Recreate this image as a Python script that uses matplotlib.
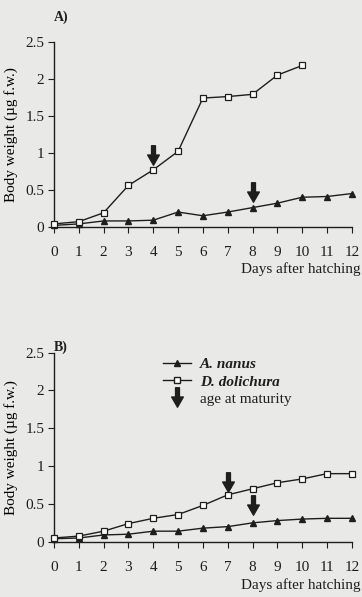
import numpy as np
import matplotlib
matplotlib.use('Agg')
import matplotlib.pyplot as plt
from matplotlib.path import Path
from matplotlib.lines import Line2D

# data (body weight, ug fresh weight)
days = np.arange(0, 13)
nanus_A = [0.02, 0.04, 0.08, 0.08, 0.09, 0.20, 0.15, 0.20, 0.26, 0.32, 0.40, 0.41, 0.45]
doli_A = [0.04, 0.07, 0.19, 0.56, 0.77, 1.02, 1.74, 1.76, 1.79, 2.05, 2.18]
nanus_B = [0.04, 0.05, 0.09, 0.10, 0.14, 0.14, 0.18, 0.20, 0.25, 0.28, 0.30, 0.31, 0.31]
doli_B = [0.05, 0.075, 0.14, 0.24, 0.31, 0.36, 0.48, 0.62, 0.70, 0.78, 0.83, 0.90, 0.90]

# age at maturity arrows (day, arrow centre)
mat_A_days = [4, 8]
mat_A_y = [0.97, 0.47]
mat_B_days = [7, 8]
mat_B_y = [0.79, 0.49]

yticks = [0, 0.5, 1, 1.5, 2, 2.5]
ytick_labels = ['0', '0.5', '1', '1.5', '2', '2.5']

bg = '#e9e9e7'
ink = '#1e1e1e'
plt.rcParams['font.family'] = ['Liberation Serif', 'DejaVu Serif']
plt.rcParams['font.size'] = 11
plt.rcParams['text.color'] = ink
plt.rcParams['axes.edgecolor'] = ink
plt.rcParams['xtick.color'] = ink
plt.rcParams['ytick.color'] = ink

# thick down arrow as a marker
arrow = Path([(-0.2, 1.0), (0.2, 1.0), (0.2, 0.05), (0.6, 0.05), (0.0, -1.0),
              (-0.6, 0.05), (-0.2, 0.05), (-0.2, 1.0)],
             [Path.MOVETO] + [Path.LINETO] * 6 + [Path.CLOSEPOLY])

fig = plt.figure(figsize=(3.62, 5.97), dpi=100, facecolor=bg)
axA = fig.add_axes([0.149, 0.620, 0.823, 0.310])
axB = fig.add_axes([0.149, 0.0925, 0.823, 0.317])


def panel(ax, nanus, doli, mdays, my):
    ax.set_facecolor(bg)
    ax.plot(days[:len(nanus)], nanus, color=ink, lw=1.0, marker='^', ms=5,
            mfc=ink, mec=ink, clip_on=False, zorder=3)
    ax.plot(days[:len(doli)], doli, color=ink, lw=1.0, marker='s', ms=5,
            mfc='white', mec=ink, mew=0.9, clip_on=False, zorder=4)
    ax.plot(mdays, my, ls='none', marker=arrow, ms=14, color=ink, mec=ink)
    ax.set_xlim(0, 12)
    ax.set_ylim(0, 2.5)
    ax.set_xticks(days)
    ax.set_yticks(yticks)
    ax.set_yticklabels(ytick_labels)
    ax.spines['top'].set_visible(False)
    ax.spines['right'].set_visible(False)
    ax.spines['left'].set_linewidth(1.0)
    ax.spines['bottom'].set_linewidth(1.0)
    ax.tick_params(axis='x', direction='out', length=4, pad=10)
    ax.tick_params(axis='y', direction='out', length=4, pad=3)
    ax.set_ylabel('Body weight (µg f.w.)', labelpad=5, fontsize=11)
    ax.text(1.03, -0.19, 'Days after hatching', transform=ax.transAxes,
            ha='right', va='top', fontsize=11)


panel(axA, nanus_A, doli_A, mat_A_days, mat_A_y)
panel(axB, nanus_B, doli_B, mat_B_days, mat_B_y)

axA.text(0.0, 1.115, 'A)', transform=axA.transAxes, fontweight='bold', fontsize=10)
axB.text(0.0, 1.01, 'B)', transform=axB.transAxes, fontweight='bold', fontsize=10)

handles = [Line2D([], [], color=ink, lw=1.0, marker='^', ms=4.5, mfc=ink, mec=ink),
           Line2D([], [], color=ink, lw=1.0, marker='s', ms=4.5, mfc='white', mec=ink),
           Line2D([], [], ls='none', marker=arrow, ms=14, color=ink)]
labels = ['A. nanus', 'D. dolichura', 'age at maturity']
leg = axB.legend(handles, labels, loc='upper left', bbox_to_anchor=(0.32, 1.045),
                 frameon=False, handlelength=1.8, handletextpad=0.6,
                 labelspacing=0.22, fontsize=11)
for t in leg.get_texts()[:2]:
    t.set_fontstyle('italic')
    t.set_fontweight('bold')

fig.savefig('out.png', dpi=100, facecolor=bg)
